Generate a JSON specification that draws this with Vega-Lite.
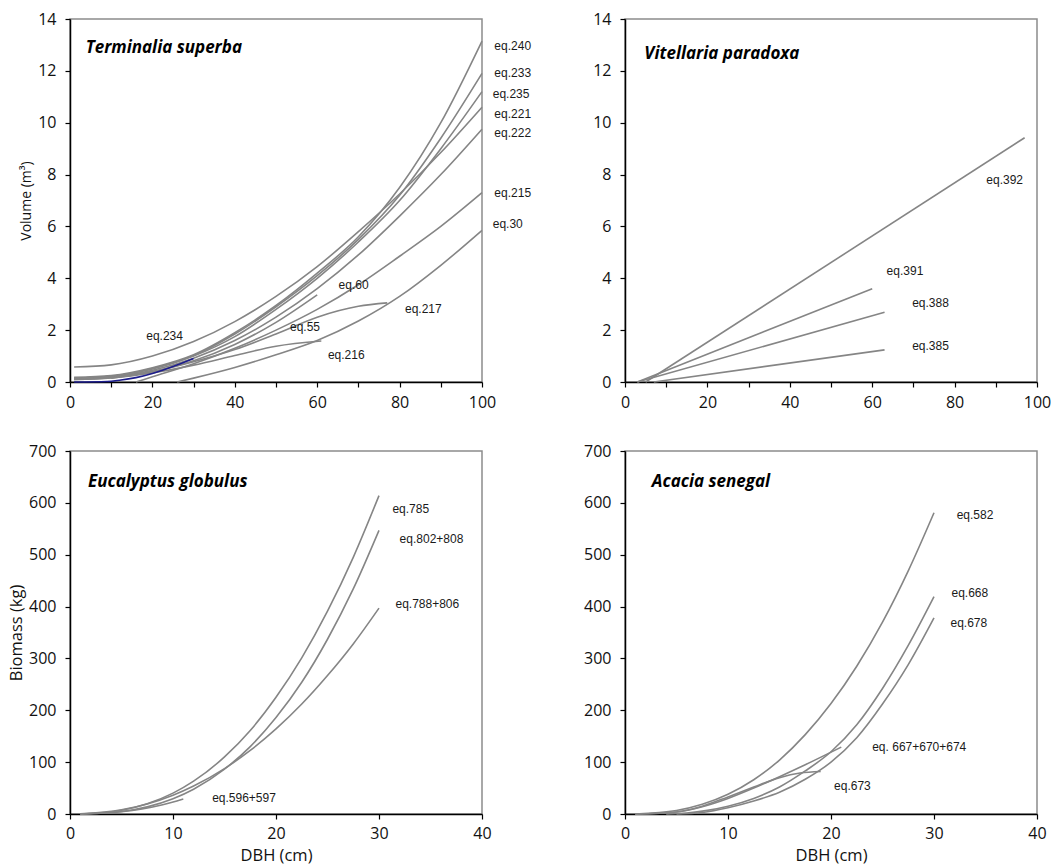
{
  "$schema": "https://vega.github.io/schema/vega-lite/v6.json",
  "padding": {"left": 7, "top": 10, "right": 5, "bottom": 3},
  "background": "white",
  "columns": 2,
  "spacing": {"row": 69, "column": 143},
  "bounds": "flush",
  "datasets": {
    "p1": [
      {"eq":"eq.240","D":1,"V":0.18},{"eq":"eq.240","D":10,"V":0.25},{"eq":"eq.240","D":20,"V":0.55},{"eq":"eq.240","D":30,"V":1.05},{"eq":"eq.240","D":40,"V":1.9},{"eq":"eq.240","D":50,"V":2.95},{"eq":"eq.240","D":60,"V":4.2},{"eq":"eq.240","D":70,"V":5.6},{"eq":"eq.240","D":80,"V":7.5},{"eq":"eq.240","D":90,"V":10.0},{"eq":"eq.240","D":100,"V":13.15},
      {"eq":"eq.233","D":1,"V":0.15},{"eq":"eq.233","D":10,"V":0.22},{"eq":"eq.233","D":20,"V":0.52},{"eq":"eq.233","D":30,"V":1.02},{"eq":"eq.233","D":40,"V":1.85},{"eq":"eq.233","D":50,"V":2.9},{"eq":"eq.233","D":60,"V":4.1},{"eq":"eq.233","D":70,"V":5.5},{"eq":"eq.233","D":80,"V":7.2},{"eq":"eq.233","D":90,"V":9.4},{"eq":"eq.233","D":100,"V":11.9},
      {"eq":"eq.235","D":1,"V":0.15},{"eq":"eq.235","D":10,"V":0.22},{"eq":"eq.235","D":20,"V":0.5},{"eq":"eq.235","D":30,"V":1.0},{"eq":"eq.235","D":40,"V":1.75},{"eq":"eq.235","D":50,"V":2.8},{"eq":"eq.235","D":60,"V":4.0},{"eq":"eq.235","D":70,"V":5.4},{"eq":"eq.235","D":80,"V":7.0},{"eq":"eq.235","D":90,"V":9.0},{"eq":"eq.235","D":100,"V":11.2},
      {"eq":"eq.221","D":1,"V":0.58},{"eq":"eq.221","D":10,"V":0.66},{"eq":"eq.221","D":20,"V":1.0},{"eq":"eq.221","D":30,"V":1.56},{"eq":"eq.221","D":40,"V":2.33},{"eq":"eq.221","D":50,"V":3.3},{"eq":"eq.221","D":60,"V":4.45},{"eq":"eq.221","D":70,"V":5.8},{"eq":"eq.221","D":80,"V":7.25},{"eq":"eq.221","D":90,"V":8.85},{"eq":"eq.221","D":100,"V":10.6},
      {"eq":"eq.222","D":1,"V":0.12},{"eq":"eq.222","D":10,"V":0.2},{"eq":"eq.222","D":20,"V":0.45},{"eq":"eq.222","D":30,"V":0.92},{"eq":"eq.222","D":40,"V":1.6},{"eq":"eq.222","D":50,"V":2.5},{"eq":"eq.222","D":60,"V":3.6},{"eq":"eq.222","D":70,"V":4.9},{"eq":"eq.222","D":80,"V":6.4},{"eq":"eq.222","D":90,"V":8.0},{"eq":"eq.222","D":100,"V":9.75},
      {"eq":"eq.60","D":10,"V":0.15},{"eq":"eq.60","D":20,"V":0.4},{"eq":"eq.60","D":30,"V":0.82},{"eq":"eq.60","D":40,"V":1.45},{"eq":"eq.60","D":50,"V":2.3},{"eq":"eq.60","D":60,"V":3.36},
      {"eq":"eq.215","D":16,"V":0},{"eq":"eq.215","D":20,"V":0.2},{"eq":"eq.215","D":30,"V":0.7},{"eq":"eq.215","D":40,"V":1.3},{"eq":"eq.215","D":50,"V":2.0},{"eq":"eq.215","D":60,"V":2.8},{"eq":"eq.215","D":70,"V":3.75},{"eq":"eq.215","D":80,"V":4.85},{"eq":"eq.215","D":90,"V":6.0},{"eq":"eq.215","D":100,"V":7.3},
      {"eq":"eq.217","D":1,"V":0.1},{"eq":"eq.217","D":10,"V":0.17},{"eq":"eq.217","D":20,"V":0.4},{"eq":"eq.217","D":30,"V":0.78},{"eq":"eq.217","D":40,"V":1.25},{"eq":"eq.217","D":50,"V":1.85},{"eq":"eq.217","D":60,"V":2.5},{"eq":"eq.217","D":70,"V":2.92},{"eq":"eq.217","D":77,"V":3.05},
      {"eq":"eq.216","D":1,"V":0.1},{"eq":"eq.216","D":10,"V":0.16},{"eq":"eq.216","D":20,"V":0.35},{"eq":"eq.216","D":30,"V":0.65},{"eq":"eq.216","D":40,"V":1.02},{"eq":"eq.216","D":50,"V":1.38},{"eq":"eq.216","D":61,"V":1.58},
      {"eq":"eq.30","D":26,"V":0},{"eq":"eq.30","D":30,"V":0.15},{"eq":"eq.30","D":40,"V":0.56},{"eq":"eq.30","D":50,"V":1.05},{"eq":"eq.30","D":60,"V":1.6},{"eq":"eq.30","D":70,"V":2.35},{"eq":"eq.30","D":80,"V":3.3},{"eq":"eq.30","D":90,"V":4.5},{"eq":"eq.30","D":100,"V":5.85},
      {"eq":"eq.234","D":1,"V":0},{"eq":"eq.234","D":9,"V":0.02},{"eq":"eq.234","D":12,"V":0.07},{"eq":"eq.234","D":16,"V":0.17},{"eq":"eq.234","D":20,"V":0.33},{"eq":"eq.234","D":25,"V":0.6},{"eq":"eq.234","D":30,"V":0.91}
    ],
    "p1lab": [
      {"t":"eq.240","D":103,"V":12.96},{"t":"eq.233","D":103,"V":11.9},{"t":"eq.235","D":102.6,"V":11.1},{"t":"eq.221","D":103,"V":10.33},{"t":"eq.222","D":103,"V":9.59},{"t":"eq.215","D":103,"V":7.3},{"t":"eq.30","D":102.6,"V":6.08},{"t":"eq.60","D":65.2,"V":3.73},{"t":"eq.217","D":81.3,"V":2.83},{"t":"eq.55","D":53.4,"V":2.13},{"t":"eq.234","D":18.5,"V":1.78},{"t":"eq.216","D":62.6,"V":1.04}
    ],
    "p2": [
      {"eq":"eq.392","D":5,"V":0},{"eq":"eq.392","D":97,"V":9.42},
      {"eq":"eq.391","D":3,"V":0},{"eq":"eq.391","D":60,"V":3.6},
      {"eq":"eq.388","D":3,"V":0},{"eq":"eq.388","D":63,"V":2.69},
      {"eq":"eq.385","D":7,"V":0},{"eq":"eq.385","D":63,"V":1.24}
    ],
    "p2lab": [
      {"t":"eq.392","D":87.7,"V":7.79},{"t":"eq.391","D":63.5,"V":4.27},{"t":"eq.388","D":69.7,"V":3.06},{"t":"eq.385","D":69.7,"V":1.38}
    ],
    "p3": [
      {"eq":"eq.785","D":1,"B":0.13},{"eq":"eq.785","D":5,"B":7.2},{"eq":"eq.785","D":7.5,"B":19.7},{"eq":"eq.785","D":10,"B":40.2},{"eq":"eq.785","D":12,"B":63.3},{"eq":"eq.785","D":15,"B":110},{"eq":"eq.785","D":17.5,"B":161},{"eq":"eq.785","D":20,"B":225},{"eq":"eq.785","D":22.5,"B":301},{"eq":"eq.785","D":25,"B":391},{"eq":"eq.785","D":27.5,"B":495},{"eq":"eq.785","D":30,"B":614},
      {"eq":"eq.802+808","D":1,"B":0.06},{"eq":"eq.802+808","D":5,"B":4.7},{"eq":"eq.802+808","D":7.5,"B":13.7},{"eq":"eq.802+808","D":10,"B":29.4},{"eq":"eq.802+808","D":12,"B":47.8},{"eq":"eq.802+808","D":15,"B":86.5},{"eq":"eq.802+808","D":17.5,"B":130},{"eq":"eq.802+808","D":20,"B":186},{"eq":"eq.802+808","D":22.5,"B":254},{"eq":"eq.802+808","D":25,"B":337},{"eq":"eq.802+808","D":27.5,"B":434},{"eq":"eq.802+808","D":30,"B":547},
      {"eq":"eq.788+806","D":1,"B":0.24},{"eq":"eq.788+806","D":5,"B":8},{"eq":"eq.788+806","D":7.5,"B":19.3},{"eq":"eq.788+806","D":10,"B":36.2},{"eq":"eq.788+806","D":12,"B":53.9},{"eq":"eq.788+806","D":15,"B":87.6},{"eq":"eq.788+806","D":17.5,"B":122.6},{"eq":"eq.788+806","D":20,"B":164},{"eq":"eq.788+806","D":22.5,"B":212},{"eq":"eq.788+806","D":25,"B":267},{"eq":"eq.788+806","D":27.5,"B":328},{"eq":"eq.788+806","D":30,"B":397},
      {"eq":"eq.596+597","D":1,"B":0.09},{"eq":"eq.596+597","D":3,"B":1.3},{"eq":"eq.596+597","D":5,"B":4.4},{"eq":"eq.596+597","D":7,"B":9.8},{"eq":"eq.596+597","D":9,"B":17.9},{"eq":"eq.596+597","D":11,"B":29}
    ],
    "p3lab": [
      {"t":"eq.785","D":31.3,"B":589},{"t":"eq.802+808","D":32.0,"B":531},{"t":"eq.788+806","D":31.6,"B":405},{"t":"eq.596+597","D":13.8,"B":30}
    ],
    "p4": [
      {"eq":"eq.582","D":1,"B":0.1},{"eq":"eq.582","D":5,"B":6.8},{"eq":"eq.582","D":7.5,"B":18.7},{"eq":"eq.582","D":10,"B":38},{"eq":"eq.582","D":12.5,"B":66},{"eq":"eq.582","D":15,"B":104},{"eq":"eq.582","D":17.5,"B":153},{"eq":"eq.582","D":20,"B":213},{"eq":"eq.582","D":22.5,"B":285},{"eq":"eq.582","D":25,"B":370},{"eq":"eq.582","D":27.5,"B":469},{"eq":"eq.582","D":30,"B":581},
      {"eq":"eq.668","D":4,"B":0},{"eq":"eq.668","D":6,"B":2},{"eq":"eq.668","D":8,"B":7},{"eq":"eq.668","D":10,"B":15},{"eq":"eq.668","D":12.5,"B":30},{"eq":"eq.668","D":15,"B":52},{"eq":"eq.668","D":17.5,"B":83},{"eq":"eq.668","D":20,"B":120},{"eq":"eq.668","D":22.5,"B":172},{"eq":"eq.668","D":25,"B":242},{"eq":"eq.668","D":27.5,"B":325},{"eq":"eq.668","D":30,"B":419},
      {"eq":"eq.678","D":5,"B":0},{"eq":"eq.678","D":7.5,"B":3},{"eq":"eq.678","D":10,"B":12},{"eq":"eq.678","D":12.5,"B":25},{"eq":"eq.678","D":15,"B":42},{"eq":"eq.678","D":17.5,"B":67},{"eq":"eq.678","D":20,"B":100},{"eq":"eq.678","D":22.5,"B":147},{"eq":"eq.678","D":25,"B":212},{"eq":"eq.678","D":27.5,"B":288},{"eq":"eq.678","D":30,"B":378},
      {"eq":"eq.667+670+674","D":1,"B":0},{"eq":"eq.667+670+674","D":5,"B":4},{"eq":"eq.667+670+674","D":7.5,"B":14},{"eq":"eq.667+670+674","D":10,"B":30},{"eq":"eq.667+670+674","D":12.5,"B":50},{"eq":"eq.667+670+674","D":15,"B":72},{"eq":"eq.667+670+674","D":17.5,"B":95},{"eq":"eq.667+670+674","D":21,"B":129},
      {"eq":"eq.673","D":1,"B":0},{"eq":"eq.673","D":5,"B":4},{"eq":"eq.673","D":7.5,"B":15},{"eq":"eq.673","D":10,"B":33},{"eq":"eq.673","D":12.5,"B":52},{"eq":"eq.673","D":15,"B":70},{"eq":"eq.673","D":17,"B":79},{"eq":"eq.673","D":19,"B":82}
    ],
    "p4lab": [
      {"t":"eq.582","D":32.2,"B":577},{"t":"eq.668","D":31.7,"B":427},{"t":"eq.678","D":31.6,"B":368},{"t":"eq. 667+670+674","D":24.0,"B":129},{"t":"eq.673","D":20.3,"B":54}
    ]
  },
  "concat": [
    {
      "width": 412, "height": 363,
      "encoding": {
        "x": {"field":"D","type":"quantitative","scale":{"domain":[0,100],"nice":false},"axis":{"values":[0,10,20,30,40,50,60,70,80,90,100],"labelExpr":"datum.value % 20 === 0 ? datum.label : ''","title":null,"labelFlush":false,"labelOverlap":false,"labelPadding":7}},
        "y": {"field":"V","type":"quantitative","scale":{"domain":[0,14],"nice":false},"axis":{"values":[0,2,4,6,8,10,12,14],"title":"Volume (m³)","titleFontSize":14,"labelFlush":false,"labelOverlap":false}}
      },
      "layer": [
        {"data":{"name":"p1"},"transform":[{"filter":"datum.eq !== 'eq.234'"}],"mark":{"type":"line","interpolate":"monotone","color":"#858585","strokeWidth":1.6},"encoding":{"detail":{"field":"eq"}}},
        {"data":{"name":"p1"},"transform":[{"filter":"datum.eq === 'eq.234'"}],"mark":{"type":"line","interpolate":"monotone","color":"#1c1c8c","strokeWidth":1.6},"encoding":{"detail":{"field":"eq"}}},
        {"data":{"name":"p1lab"},"mark":{"type":"text","align":"left","baseline":"middle","font":"Liberation Sans","fontSize":12,"color":"#1a1a1a"},"encoding":{"text":{"field":"t"}}},
        {"data":{"values":[{"t":"Terminalia superba","D":3.8,"V":12.9}]},"mark":{"type":"text","align":"left","baseline":"middle","font":"Open Sans","fontSize":17,"fontWeight":"bold","fontStyle":"italic","color":"#000"},"encoding":{"text":{"field":"t"}}}
      ]
    },
    {
      "width": 412, "height": 363,
      "encoding": {
        "x": {"field":"D","type":"quantitative","scale":{"domain":[0,100],"nice":false},"axis":{"values":[0,10,20,30,40,50,60,70,80,90,100],"labelExpr":"datum.value % 20 === 0 ? datum.label : ''","title":null,"labelFlush":false,"labelOverlap":false,"labelPadding":7}},
        "y": {"field":"V","type":"quantitative","scale":{"domain":[0,14],"nice":false},"axis":{"values":[0,2,4,6,8,10,12,14],"title":null,"labelFlush":false,"labelOverlap":false}}
      },
      "layer": [
        {"data":{"name":"p2"},"mark":{"type":"line","color":"#858585","strokeWidth":1.6},"encoding":{"detail":{"field":"eq"}}},
        {"data":{"name":"p2lab"},"mark":{"type":"text","align":"left","baseline":"middle","font":"Liberation Sans","fontSize":12,"color":"#1a1a1a"},"encoding":{"text":{"field":"t"}}},
        {"data":{"values":[{"t":"Vitellaria paradoxa","D":4.7,"V":12.66}]},"mark":{"type":"text","align":"left","baseline":"middle","font":"Open Sans","fontSize":17,"fontWeight":"bold","fontStyle":"italic","color":"#000"},"encoding":{"text":{"field":"t"}}}
      ]
    },
    {
      "width": 412, "height": 363,
      "encoding": {
        "x": {"field":"D","type":"quantitative","scale":{"domain":[0,40],"nice":false},"axis":{"values":[0,10,20,30,40],"title":"DBH (cm)","labelFlush":false,"labelOverlap":false,"labelPadding":6,"titlePadding":6}},
        "y": {"field":"B","type":"quantitative","scale":{"domain":[0,700],"nice":false},"axis":{"values":[0,100,200,300,400,500,600,700],"title":"Biomass (kg)","titleFontSize":16.5,"labelFlush":false,"labelOverlap":false}}
      },
      "layer": [
        {"data":{"name":"p3"},"mark":{"type":"line","interpolate":"monotone","color":"#858585","strokeWidth":1.6},"encoding":{"detail":{"field":"eq"}}},
        {"data":{"name":"p3lab"},"mark":{"type":"text","align":"left","baseline":"middle","font":"Liberation Sans","fontSize":12,"color":"#1a1a1a"},"encoding":{"text":{"field":"t"}}},
        {"data":{"values":[{"t":"Eucalyptus globulus","D":1.75,"B":640}]},"mark":{"type":"text","align":"left","baseline":"middle","font":"Open Sans","fontSize":17,"fontWeight":"bold","fontStyle":"italic","color":"#000"},"encoding":{"text":{"field":"t"}}}
      ]
    },
    {
      "width": 412, "height": 363,
      "encoding": {
        "x": {"field":"D","type":"quantitative","scale":{"domain":[0,40],"nice":false},"axis":{"values":[0,10,20,30,40],"title":"DBH (cm)","labelFlush":false,"labelOverlap":false,"labelPadding":6,"titlePadding":6}},
        "y": {"field":"B","type":"quantitative","scale":{"domain":[0,700],"nice":false},"axis":{"values":[0,100,200,300,400,500,600,700],"title":null,"labelFlush":false,"labelOverlap":false}}
      },
      "layer": [
        {"data":{"name":"p4"},"mark":{"type":"line","interpolate":"monotone","color":"#858585","strokeWidth":1.6},"encoding":{"detail":{"field":"eq"}}},
        {"data":{"name":"p4lab"},"mark":{"type":"text","align":"left","baseline":"middle","font":"Liberation Sans","fontSize":12,"color":"#1a1a1a"},"encoding":{"text":{"field":"t"}}},
        {"data":{"values":[{"t":"Acacia senegal","D":2.6,"B":640}]},"mark":{"type":"text","align":"left","baseline":"middle","font":"Open Sans","fontSize":17,"fontWeight":"bold","fontStyle":"italic","color":"#000"},"encoding":{"text":{"field":"t"}}}
      ]
    }
  ],
  "config": {
    "view": {"stroke": "#8c8c8c", "strokeWidth": 1.5},
    "axis": {
      "domainColor": "#000", "domainWidth": 1.5,
      "tickColor": "#000", "tickWidth": 1.2, "tickSize": 5,
      "grid": false,
      "labelFont": "Open Sans", "labelFontSize": 16, "labelColor": "#111", "labelPadding": 9,
      "titleFont": "Open Sans", "titleFontWeight": "normal", "titleFontSize": 16.5, "titleColor": "#111", "titlePadding": 4,
      "zindex": 1
    }
  }
}
